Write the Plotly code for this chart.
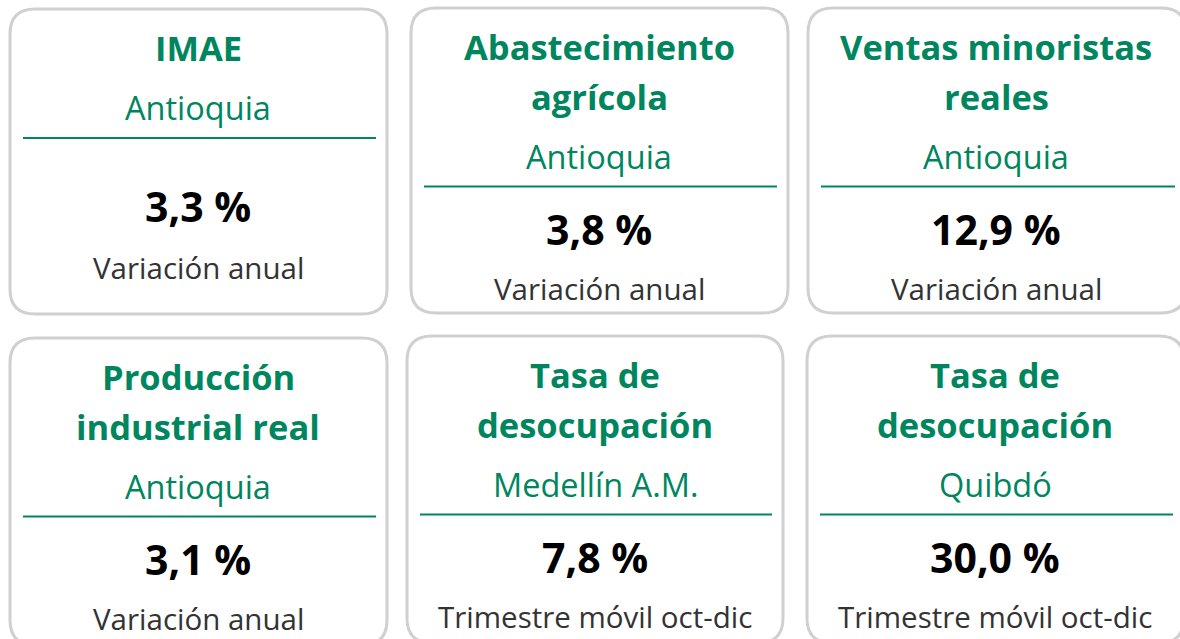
"""KPI cards: regional economic indicators (Antioquia / Medellín / Quibdó)."""

import plotly.graph_objects as go

# Card content, one entry per card (row by row, left to right).
titles = [
    "IMAE",
    "Abastecimiento\nagrícola",
    "Ventas minoristas\nreales",
    "Producción\nindustrial real",
    "Tasa de\ndesocupación",
    "Tasa de\ndesocupación",
]
regions = ["Antioquia", "Antioquia", "Antioquia", "Antioquia", "Medellín A.M.", "Quibdó"]
values = [3.3, 3.8, 12.9, 3.1, 7.8, 30.0]
measures = [
    "Variación anual",
    "Variación anual",
    "Variación anual",
    "Variación anual",
    "Trimestre móvil oct-dic",
    "Trimestre móvil oct-dic",
]

# Card boxes in pixel space: (x0, y0, x1, y1).
CARD_BOXES = [
    (10, 9, 387, 314),
    (411, 8, 788, 313),
    (808, 8, 1186, 313),
    (10, 338, 387, 645),
    (407, 336, 783, 643),
    (807, 336, 1184, 643),
]

GREEN = "#00865f"
BORDER = "#d0d0d0"
FONT = "Open Sans"
W, H = 1180, 639


def rounded_rect(x0, y0, x1, y1, r=25):
    """SVG path for a rectangle with rounded corners."""
    return (
        f"M {x0 + r},{y0} L {x1 - r},{y0} Q {x1},{y0} {x1},{y0 + r} "
        f"L {x1},{y1 - r} Q {x1},{y1} {x1 - r},{y1} "
        f"L {x0 + r},{y1} Q {x0},{y1} {x0},{y1 - r} "
        f"L {x0},{y0 + r} Q {x0},{y0} {x0 + r},{y0} Z"
    )


def fmt_value(v):
    return f"{v:.1f}".replace(".", ",") + " %"


fig = go.Figure()
shapes = []
annotations = []


def add_text(x, y, text, size, color, bold=False):
    annotations.append(
        dict(
            x=x, y=y, xref="x", yref="y", text=text, showarrow=False,
            xanchor="center", yanchor="middle",
            font=dict(family=FONT, size=size, color=color,
                      weight="bold" if bold else "normal"),
        )
    )


for i, (x0, y0, x1, y1) in enumerate(CARD_BOXES):
    shapes.append(dict(
        type="path", path=rounded_rect(x0, y0, x1, y1), xref="x", yref="y",
        line=dict(color=BORDER, width=3), fillcolor="white", layer="below",
    ))
    cx = x0 + 188
    lines = titles[i].split("\n")
    for k, ln in enumerate(lines):
        add_text(cx, y0 + 38.5 + 49.5 * k, ln, 34.5, GREEN, bold=True)
    sub_y = y0 + 38.5 + 49.5 * (len(lines) - 1) + 60
    add_text(cx, sub_y, regions[i], 32.5, GREEN)
    rule_y = sub_y + 30.5
    shapes.append(dict(
        type="line", xref="x", yref="y", x0=x0 + 13, x1=x1 - 11,
        y0=rule_y, y1=rule_y, line=dict(color=GREEN, width=2),
    ))
    if len(lines) == 1:
        val_y, lab_y = rule_y + 68, rule_y + 129
    else:
        val_y, lab_y = rule_y + 42, rule_y + 102
    add_text(cx, val_y, fmt_value(values[i]), 41, "#000000", bold=True)
    add_text(cx, lab_y, measures[i], 29.5, "#333333")

fig.update_layout(
    width=W, height=H,
    margin=dict(l=0, r=0, t=0, b=0),
    paper_bgcolor="white", plot_bgcolor="white",
    xaxis=dict(range=[0, W], visible=False, fixedrange=True),
    yaxis=dict(range=[H, 0], visible=False, fixedrange=True),
    shapes=shapes, annotations=annotations,
    showlegend=False,
)

# Drop the default page margin so the figure sits flush at the top-left.
fig.write_html(
    "out.html",
    config={"displayModeBar": False},
    post_script="document.body.style.margin='0';document.body.style.overflow='hidden';",
)
